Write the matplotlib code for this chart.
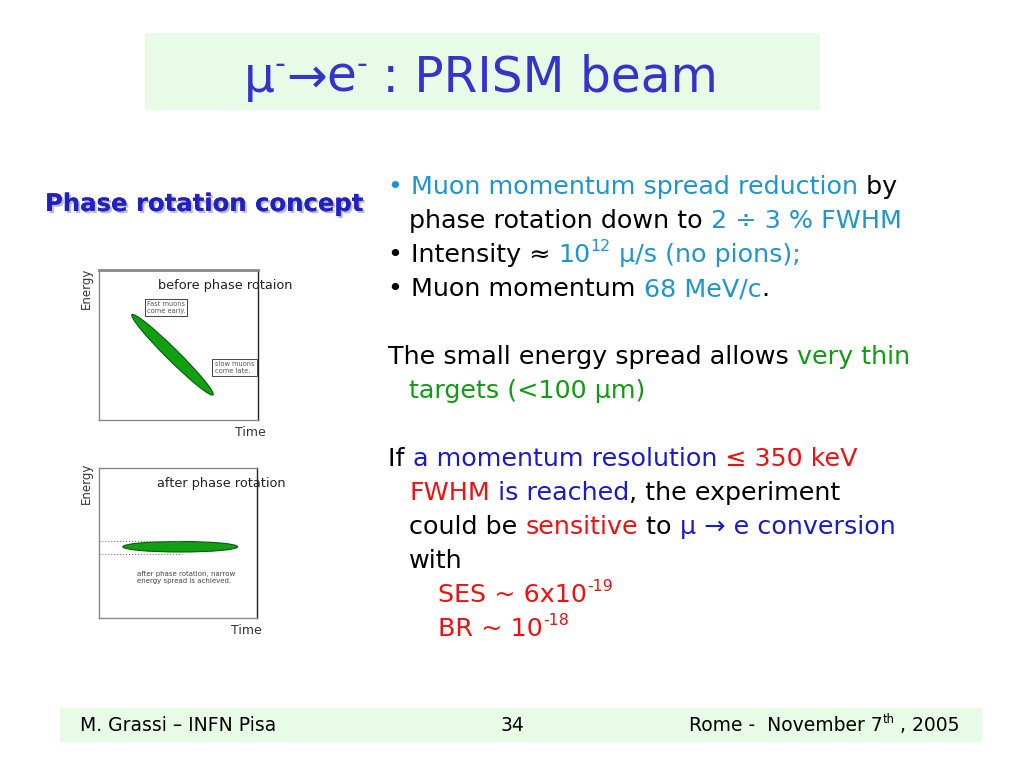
import matplotlib
matplotlib.use("Agg")
import matplotlib.pyplot as plt
import matplotlib.patches as mpatches
import matplotlib.patheffects as pe

W, H = 1024, 768

# Colours used on the slide
CYAN = "#1f95cf"
GREEN = "#129a12"
RED = "#ee1111"
BLUE = "#1a1ac8"
BLACK = "#000000"
TITLE_BLUE = "#3434cc"
BOX_GREEN = "#e8fbe6"

# Slide text (segments: text, colour, superscript flag)
title_segments = [("μ", TITLE_BLUE, False), ("-", TITLE_BLUE, True), ("→", TITLE_BLUE, False),
                  ("e", TITLE_BLUE, False), ("-", TITLE_BLUE, True), (" : PRISM beam", TITLE_BLUE, False)]

body_lines = [
    (388, [("• ", CYAN, False), ("Muon momentum spread reduction", CYAN, False), (" by", BLACK, False)]),
    (409, [("phase rotation down to ", BLACK, False), ("2 ÷ 3 % FWHM", CYAN, False)]),
    (388, [("• Intensity ≈ ", BLACK, False), ("10", CYAN, False), ("12", CYAN, True),
           (" μ/s (no pions);", CYAN, False)]),
    (388, [("• Muon momentum ", BLACK, False), ("68 MeV/c", CYAN, False), (".", BLACK, False)]),
    None,
    (388, [("The small energy spread allows ", BLACK, False), ("very thin", GREEN, False)]),
    (409, [("targets (<100 μm)", GREEN, False)]),
    None,
    (388, [("If ", BLACK, False), ("a momentum resolution", BLUE, False), (" ≤ 350 keV", RED, False)]),
    (409, [("FWHM", RED, False), (" is reached", BLUE, False), (", the experiment", BLACK, False)]),
    (409, [("could be ", BLACK, False), ("sensitive", RED, False), (" to ", BLACK, False),
           ("μ → e conversion", BLUE, False)]),
    (409, [("with", BLACK, False)]),
    (438, [("SES ~ 6x10", RED, False), ("-19", RED, True)]),
    (438, [("BR ~ 10", RED, False), ("-18", RED, True)]),
]

footer_left = "M. Grassi – INFN Pisa"
footer_page = "34"
footer_right = [("Rome -  November 7", BLACK, False), ("th", BLACK, True), (" , 2005", BLACK, False)]

# Schematic phase-space ellipses (time, energy, length, width, angle)
before_ellipse = dict(t=4.9, e=4.35, length=7.6, width=0.8, angle=-44.7)
after_ellipse = dict(t=5.45, e=4.75, length=7.7, width=0.7, angle=0.0)
after_band = [4.27, 5.13]
after_band_end = 5.6


def fx(x):
    return x / W


def fy(y):
    return 1 - y / H


def draw_segments(fig, x_px, base_px, segments, size, align="left", raise_frac=0.45, **kw):
    renderer = fig.canvas.get_renderer()
    texts = []
    x = x_px
    for txt, color, sup in segments:
        fs = size * 0.62 if sup else size
        y = base_px - (size * raise_frac * 100 / 72 if sup else 0)
        t = fig.text(fx(x), fy(y), txt, color=color, fontsize=fs, va="baseline", ha="left", **kw)
        bb = t.get_window_extent(renderer)
        x += bb.width
        texts.append(t)
    total = x - x_px
    shift = 0
    if align == "center":
        shift = -total / 2
    elif align == "right":
        shift = -total
    if shift:
        for t in texts:
            px, py = t.get_position()
            t.set_position((px + shift / W, py))
    return total


fig = plt.figure(figsize=(W / 100, H / 100), dpi=100)
fig.patch.set_facecolor("white")

# Title band
fig.patches.append(mpatches.Rectangle((fx(145), fy(110)), (820 - 145) / W, (110 - 33) / H,
                                      transform=fig.transFigure, facecolor=BOX_GREEN, edgecolor="none"))
draw_segments(fig, 481, 92, title_segments, 35, align="center", raise_frac=0.4)

# Footer band
fig.patches.append(mpatches.Rectangle((fx(60), fy(742)), (982 - 60) / W, (742 - 708) / H,
                                      transform=fig.transFigure, facecolor=BOX_GREEN, edgecolor="none"))
fig.text(fx(80), fy(731), footer_left, fontsize=13.5, va="baseline", ha="left")
fig.text(fx(512), fy(731), footer_page, fontsize=13.5, va="baseline", ha="center")
draw_segments(fig, 960, 731, footer_right, 13.5, align="right")

# Left heading
fig.text(fx(45), fy(211), "Phase rotation concept", fontsize=17.5, fontweight="bold", color="#2020c4",
         va="baseline", ha="left",
         path_effects=[pe.withSimplePatchShadow(offset=(1.5, -1.5), shadow_rgbFace="#9090a0", alpha=0.6),
                       pe.Normal()])

# Body text
line_y = 194
for item in body_lines:
    if item is not None:
        x0, segs = item
        draw_segments(fig, x0, line_y, segs, 18.3)
    line_y += 34


def schematic(rect, ell, label_title):
    ax = fig.add_axes(rect)
    ax.set_xlim(0, 10.6)
    ax.set_ylim(0, 10)
    ax.set_xticks([])
    ax.set_yticks([])
    for s in ax.spines.values():
        s.set_color("#888888")
        s.set_linewidth(1.0)
    ax.spines["right"].set_color("#222222")
    ax.add_patch(mpatches.Ellipse((ell["t"], ell["e"]), ell["length"], ell["width"], angle=ell["angle"],
                                  facecolor="#11a011", edgecolor="#0a5a0a", linewidth=0.8))
    ax.text(0.37, 0.9, label_title, transform=ax.transAxes, fontsize=9.3, ha="left", va="center",
            clip_on=False, color="#222222")
    return ax


# Before phase rotation
ax1 = schematic([fx(99), fy(420), 159 / W, 150 / H], before_ellipse, "before phase rotaion")
ax1.spines["top"].set_linewidth(2.0)
fig.text(fx(86), fy(288), "Energy", rotation=90, fontsize=8.5, ha="center", va="center", color="#333333")
fig.text(fx(250), fy(433), "Time", fontsize=9, ha="center", va="center", color="#333333")
ax1.text(0.3, 0.75, "Fast muons\ncome early.", transform=ax1.transAxes, fontsize=4.8, color="#555555",
         ha="left", va="center", linespacing=1.1,
         bbox=dict(boxstyle="square,pad=0.3", facecolor="white", edgecolor="#444444", linewidth=0.7))
ax1.text(0.73, 0.35, "slow muons\ncome late.", transform=ax1.transAxes, fontsize=4.8, color="#555555",
         ha="left", va="center", linespacing=1.1, clip_on=False,
         bbox=dict(boxstyle="square,pad=0.4", facecolor="white", edgecolor="#444444", linewidth=0.7))

# After phase rotation
ax2 = schematic([fx(99), fy(618), 158 / W, 150 / H], after_ellipse, "after phase rotation")
for level in after_band:
    ax2.plot([0, after_band_end], [level, level], linestyle=":", color="#777777", linewidth=0.8)
fig.text(fx(86), fy(483), "Energy", rotation=90, fontsize=8.5, ha="center", va="center", color="#333333")
fig.text(fx(246), fy(631), "Time", fontsize=9, ha="center", va="center", color="#333333")
ax2.text(0.24, 0.27, "after phase rotation, narrow\nenergy spread is achieved.", transform=ax2.transAxes,
         fontsize=5, color="#444444", ha="left", va="center", linespacing=1.2, clip_on=False)

fig.savefig("out.png", dpi=100, facecolor="white")
